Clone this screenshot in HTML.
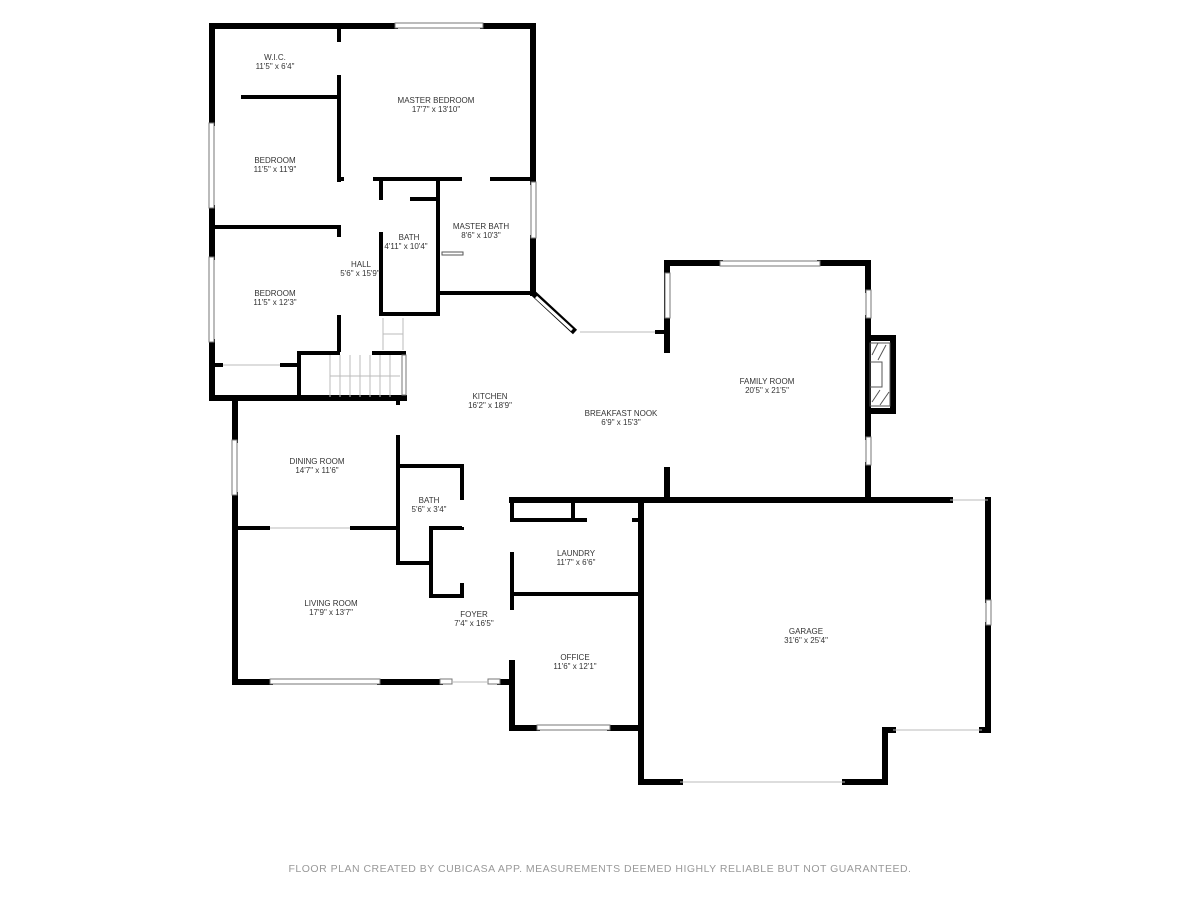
<!DOCTYPE html>
<html><head><meta charset="utf-8"><style>
html,body{margin:0;padding:0;background:#fff;}
svg{display:block}
text{font-family:"Liberation Sans",sans-serif;font-size:8px;fill:#333;text-anchor:middle}
</style></head><body>
<svg width="1200" height="900" viewBox="0 0 1200 900" xmlns="http://www.w3.org/2000/svg">
<g stroke="#000" stroke-width="6" fill="none" stroke-linecap="square">
<path d="M212 26 H395 M483 26 H533 V182"/>
<path d="M533 238 V293"/>
<path d="M212 26 V123 M212 208 V257 M212 342 V398 H404"/>
<path d="M667 350 V263 H720 M820 263 H868 V290 M868 318 V437 M868 465 V500"/>
<path d="M868 338 H893 V411 H868"/>
<path d="M667 470 V500"/>
<path d="M512 500 H570 M570 500 H950 M988 500 V600 M988 625 V730 H982 M893 730 H885 V782 H845 M680 782 H641 V500"/>
<path d="M512 663 V728 H537 M610 728 H641"/>
<path d="M235 400 V440 M235 495 V682 H270 M380 682 H440 M500 682 H512 V663"/>
</g>
<g stroke="#000" stroke-width="4" fill="none">
<path d="M339 26 V42 M339 75 V182 M339 225 V237 M339 315 V352"/>
<path d="M241 97 H339 M212 227 H339"/>
<path d="M212 365 H223 M280 365 H299"/>
<path d="M299 397 V353 H340 M372 353 H404 V397"/>
<path d="M339 179 H344 M373 179 H462 M490 179 H533"/>
<path d="M381 179 V200 M381 232 V314 H438 V179 M410 199 H437"/>
<path d="M438 293 H533"/>
<path d="M655 332 H667"/>
<path d="M398 405 V400 M398 435 V563 H431 M398 466 H462 V500 M462 527 V528 H431 V596 H462 V583"/>
<path d="M235 528 H270 M350 528 H398"/>
<path d="M512 520 H573 V500 M573 520 H587 M632 520 H641 M641 520 V500 M641 560 V782"/>
<path d="M512 500 V522 M512 552 V610 M512 594 H641"/>
</g>
<path d="M533 293 L575 332" stroke="#000" stroke-width="6"/>
<path d="M536 297 L572 330" stroke="#fff" stroke-width="3"/>
<g stroke="#777" stroke-width="1" fill="#fff">
<rect x="395" y="23" width="88" height="5"/>
<rect x="209" y="123" width="5" height="85"/>
<rect x="209" y="257" width="5" height="85"/>
<rect x="531" y="182" width="5" height="56"/>
<rect x="720" y="261" width="100" height="5"/>
<rect x="665" y="273" width="5" height="45"/>
<rect x="866" y="290" width="5" height="28"/>
<rect x="866" y="437" width="5" height="28"/>
<rect x="232" y="440" width="5" height="55"/>
<rect x="270" y="679" width="110" height="5"/>
<rect x="440" y="679" width="12" height="5"/>
<rect x="488" y="679" width="12" height="5"/>
<rect x="537" y="725" width="73" height="5"/>
<rect x="986" y="600" width="5" height="25"/>
<rect x="402" y="355" width="4" height="40"/>
</g>
<g stroke="#bbb" stroke-width="1">
<line x1="680" y1="782" x2="845" y2="782"/><line x1="893" y1="730" x2="982" y2="730"/>
<line x1="950" y1="500" x2="988" y2="500"/><line x1="580" y1="332" x2="655" y2="332"/>
<line x1="270" y1="528" x2="350" y2="528"/><line x1="223" y1="365" x2="280" y2="365"/>
<line x1="452" y1="682" x2="488" y2="682"/>
<line x1="383" y1="318" x2="383" y2="350"/><line x1="403" y1="318" x2="403" y2="350"/><line x1="383" y1="334" x2="403" y2="334"/>
<line x1="330" y1="355" x2="330" y2="397"/><line x1="340" y1="355" x2="340" y2="397"/><line x1="350" y1="355" x2="350" y2="397"/><line x1="360" y1="355" x2="360" y2="397"/><line x1="370" y1="355" x2="370" y2="397"/><line x1="380" y1="355" x2="380" y2="397"/><line x1="390" y1="355" x2="390" y2="397"/>
<line x1="330" y1="376" x2="400" y2="376"/>
</g>
<rect x="442" y="252" width="21" height="3" fill="#fff" stroke="#555" stroke-width="1"/>
<g stroke="#555" stroke-width="1" fill="none">
<rect x="870" y="343" width="20" height="63"/><rect x="870" y="362" width="12" height="25"/>
<path d="M872 355 L878 343 M878 360 L886 345 M872 402 L880 390 M880 405 L889 392"/>
</g>
<text x="275" y="60">W.I.C.</text><text x="275" y="69">11'5" x 6'4"</text>
<text x="436" y="103">MASTER BEDROOM</text><text x="436" y="112">17'7" x 13'10"</text>
<text x="275" y="163">BEDROOM</text><text x="275" y="172">11'5" x 11'9"</text>
<text x="275" y="296">BEDROOM</text><text x="275" y="305">11'5" x 12'3"</text>
<text x="409" y="240">BATH</text><text x="406" y="249">4'11" x 10'4"</text>
<text x="481" y="229">MASTER BATH</text><text x="481" y="238">8'6" x 10'3"</text>
<text x="361" y="267">HALL</text><text x="360" y="276">5'6" x 15'9"</text>
<text x="490" y="399">KITCHEN</text><text x="490" y="408">16'2" x 18'9"</text>
<text x="621" y="416">BREAKFAST NOOK</text><text x="621" y="425">6'9" x 15'3"</text>
<text x="767" y="384">FAMILY ROOM</text><text x="767" y="393">20'5" x 21'5"</text>
<text x="317" y="464">DINING ROOM</text><text x="317" y="473">14'7" x 11'6"</text>
<text x="429" y="503">BATH</text><text x="429" y="512">5'6" x 3'4"</text>
<text x="576" y="556">LAUNDRY</text><text x="576" y="565">11'7" x 6'6"</text>
<text x="331" y="606">LIVING ROOM</text><text x="331" y="615">17'9" x 13'7"</text>
<text x="474" y="617">FOYER</text><text x="474" y="626">7'4" x 16'5"</text>
<text x="575" y="660">OFFICE</text><text x="575" y="669">11'6" x 12'1"</text>
<text x="806" y="634">GARAGE</text><text x="806" y="643">31'6" x 25'4"</text>
<text x="600" y="872" style="font-size:10.5px;fill:#999;letter-spacing:0.5px">FLOOR PLAN CREATED BY CUBICASA APP. MEASUREMENTS DEEMED HIGHLY RELIABLE BUT NOT GUARANTEED.</text>
</svg>
</body></html>
